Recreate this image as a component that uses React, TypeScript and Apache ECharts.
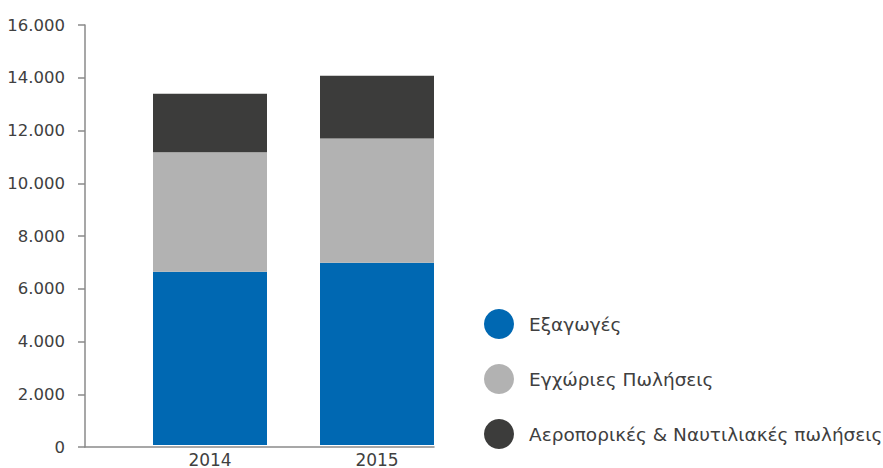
import React, { useEffect, useRef } from "react";
import * as echarts from "echarts";

const years = ["2014", "2015"];
const seriesNames = ["Εξαγωγές", "Εγχώριες Πωλήσεις", "Αεροπορικές & Ναυτιλιακές πωλήσεις"];
const exportsValues = [6600, 6940];
const domesticValues = [4550, 4740];
const aviationMarineValues = [2230, 2390];
const yTicks = { min: 0, max: 16000, interval: 2000 };
const colors = ["#0068b2", "#b2b2b2", "#3c3c3b"];

const FONT = "'DejaVu Sans', sans-serif";
const TEXT = "#404040";
const AXIS = "#8a8a8a";

function fmtThousands(v: number): string {
  const s = String(Math.round(v));
  return s.replace(/\B(?=(\d{3})+(?!\d))/g, ".");
}

export default function App() {
  const ref = useRef<HTMLDivElement>(null);
  useEffect(() => {
    if (!ref.current) return;
    const chart = echarts.init(ref.current, undefined, { renderer: "svg" });
    const valueSets = [exportsValues, domesticValues, aviationMarineValues];
    chart.setOption({
      animation: false,
      backgroundColor: "#ffffff",
      grid: [
        { left: 126.5, right: 422.5, top: 25, bottom: 21, containLabel: false },
        { left: 85, right: 449, top: 25, bottom: 21, containLabel: false },
      ],
      legend: {
        orient: "vertical",
        left: 479,
        top: 304,
        icon: "circle",
        itemWidth: 30,
        itemHeight: 30,
        itemGap: 25,
        selectedMode: false,
        data: seriesNames,
        textStyle: { fontFamily: FONT, fontSize: 18.5, color: TEXT, padding: [0, 0, 0, 10] },
      },
      xAxis: [
        {
          type: "category",
          gridIndex: 0,
          data: years,
          boundaryGap: true,
          axisLine: { show: false },
          axisTick: { show: false },
          splitLine: { show: false },
          axisLabel: { fontFamily: FONT, fontSize: 17, color: TEXT, margin: 6 },
        },
        {
          type: "value",
          gridIndex: 1,
          min: 0,
          max: 1,
          axisLine: { show: true, lineStyle: { color: AXIS, width: 1.5 } },
          axisTick: { show: false },
          axisLabel: { show: false },
          splitLine: { show: false },
        },
      ],
      yAxis: [
        {
          type: "value",
          gridIndex: 0,
          show: false,
          min: yTicks.min,
          max: yTicks.max,
          interval: yTicks.interval,
          splitLine: { show: false },
        },
        {
          type: "value",
          gridIndex: 1,
          min: yTicks.min,
          max: yTicks.max,
          interval: yTicks.interval,
          splitLine: { show: false },
          axisLine: { show: true, lineStyle: { color: AXIS, width: 1.5 } },
          axisTick: { show: true, length: 7, lineStyle: { color: AXIS, width: 1.5 } },
          axisLabel: {
            formatter: (v: number) => fmtThousands(v),
            fontFamily: FONT,
            fontSize: 16.5,
            color: TEXT,
            margin: 20,
          },
        },
      ],
      series: seriesNames.map((name, i) => ({
        name,
        type: "bar",
        stack: "total",
        xAxisIndex: 0,
        yAxisIndex: 0,
        barWidth: 114,
        z: 3,
        itemStyle: { color: colors[i] },
        data: valueSets[i],
      })),
    });
    return () => chart.dispose();
  }, []);
  return <div ref={ref} style={{ width: 883, height: 468, position: "absolute", left: 0, top: 0 }} />;
}
